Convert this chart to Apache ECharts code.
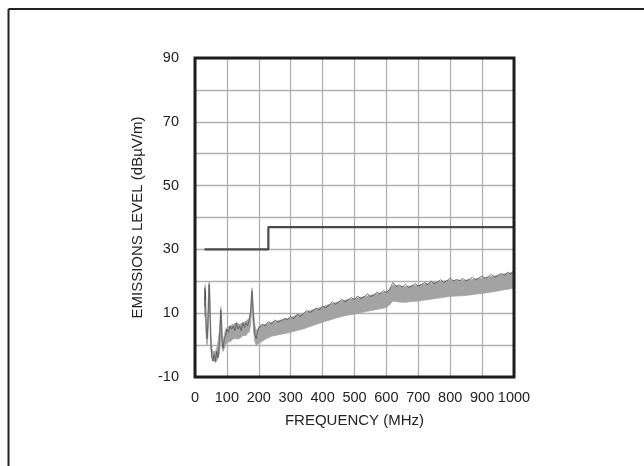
<!DOCTYPE html>
<html>
<head>
<meta charset="utf-8">
<script src="https://cdn.jsdelivr.net/npm/echarts@6/dist/echarts.min.js"></script>
<style>
html,body{margin:0;padding:0;background:#fff;}
#chart{width:644px;height:466px;}
</style>
</head>
<body>
<div id="chart"></div>
<script>
// ---- data ----
const yTickLabels = ['-10', '10', '30', '50', '70', '90'];
const xTickLabels = ['0','100','200','300','400','500','600','700','800','900','1000'];

// emission band envelope (MHz, dBuV/m)
const bandFreq = [30,31,32,33,34,36,38,40,42,44,46,48,50,53,56,60,64,68,72,76,79,81,83,85,88,92,96,100,110,120,130,140,150,160,166,170,174,177,179,181,184,188,192,196,
  200,220,240,260,280,300,320,340,360,380,400,420,440,460,480,500,520,540,560,580,600,610,620,640,660,680,700,720,740,760,780,800,820,840,860,880,900,920,940,960,980,1000];
const bandHigh = [13,17,19,16,11,6,5,9,15,20,19,11,4,-1,-2,-2,-2,-1,1,4,9,12,10,4,1,3,5,5.5,6,6.5,7,6.5,7,7.5,8,8.5,11,16,18,15,10,6,4.5,5,
  5.8,6.5,7.2,7.6,8.2,8.6,9.4,10,10.8,11.4,12,12.7,13.3,13.9,14.3,14.6,15,15.4,15.9,16.3,16.7,17.5,18.8,18.5,18.3,18.6,18.8,19.2,19.5,19.8,20.1,20.3,20.3,20.3,20.5,20.8,21,21.3,21.7,22.1,22.5,22.9];
const bandLow = [9,11,13,10,5,1,0,2,6,11,10,3,-2,-4,-5,-5,-5.5,-5,-4,-3,0,4,3,-1,-2,-1,0,1,1,2,2,2,3,3,4,4,6,10,12,9,4,1,0,0.2,
  0.5,1.8,2.8,3.2,3.6,4.0,4.6,5.1,5.8,6.5,7.2,7.8,8.4,9.0,9.4,9.7,10.2,10.6,11.0,11.4,11.8,12.6,13.8,13.5,13.4,13.7,13.8,14.1,14.4,14.7,15.0,15.3,15.4,15.5,15.7,16.0,16.2,16.5,16.8,17.2,17.5,17.9];

// dark measured trace (peaks)
const traceFreq = [30,31,32,33,34,36,38,40,42,44,46,48,50,53,56,60,64,68,72,76,79,81,83,85,88,92,96,100,105,110,115,120,125,130,135,140,145,150,155,160,165,170,174,177,179,181,184,188,192,196,
  200,210,220,230,240,250,260,270,280,290,300,310,320,330,340,350,360,370,380,390,400,410,420,430,440,450,460,470,480,490,500,510,520,530,540,550,560,570,580,590,600,
  610,620,630,640,650,660,670,680,690,700,710,720,730,740,750,760,770,780,790,800,810,820,830,840,850,860,870,880,890,900,910,920,930,940,950,960,970,980,990,1000];
const traceLevel = [12,18,14,17,9,4,2,6,12,19,16,7,0,-4,-5,-3,-5,-2,-4,0,6,11,8,1,-1,2,3,5,4,6,5,6,4.5,7,5,6,4.5,7,5.5,7,6,8,10,15,17,13,7,3,2,4,
  5.2,6.6,6.0,7.4,6.6,7.9,7.2,7.6,8.3,8.0,8.9,8.3,9.7,9.0,9.8,10.9,10.2,10.8,11.6,11.0,12.2,11.7,12.4,13.6,12.8,13.4,14.4,13.5,14.2,14.9,14.3,15.4,14.6,15.1,16.1,15.2,15.6,16.6,16.0,17.1,16.4,
  17.4,19.6,18.4,18.9,18.2,19.1,18.0,18.6,19.3,18.5,19.0,19.6,18.9,20.1,19.2,19.8,20.5,19.6,20.2,21.0,20.1,20.6,20.2,20.9,20.0,20.7,21.3,20.4,21.1,21.6,20.9,21.5,22.1,21.2,21.9,22.5,21.8,22.9,22.2,23.5];

// limit line
const limitFreq = [30, 230, 230, 1000];
const limitLevel = [30, 30, 37, 37];

const FONT = "'Liberation Sans', Arial, sans-serif";

const chart = echarts.init(document.getElementById('chart'), null, {renderer: 'canvas'});

const option = {
  animation: false,
  backgroundColor: '#ffffff',
  grid: {
    left: 195, top: 58, width: 319, height: 319,
    show: true, borderColor: '#1e1e1e', borderWidth: 3, backgroundColor: 'transparent',
    z: 10
  },
  xAxis: {
    type: 'value', min: 0, max: 1000, interval: 100,
    name: 'FREQUENCY (MHz)', nameLocation: 'middle', nameGap: 36,
    nameTextStyle: {fontFamily: FONT, fontSize: 15, color: '#222'},
    axisLine: {show: false}, axisTick: {show: false},
    axisLabel: {fontFamily: FONT, fontSize: 14.5, color: '#222', margin: 13,
      showMinLabel: true, showMaxLabel: true, hideOverlap: false,
      formatter: function (v) { const i = Math.round(v / 100); return xTickLabels[i] !== undefined ? xTickLabels[i] : ''; }},
    splitLine: {show: true, lineStyle: {color: '#b0b0b0', width: 1.3}}
  },
  yAxis: {
    type: 'value', min: -10, max: 90, interval: 10,
    name: 'EMISSIONS LEVEL (dBµV/m)', nameLocation: 'middle', nameGap: 50,
    nameTextStyle: {fontFamily: FONT, fontSize: 15, color: '#222'},
    axisLine: {show: false}, axisTick: {show: false},
    axisLabel: {fontFamily: FONT, fontSize: 14.5, color: '#222', margin: 16,
      showMinLabel: true, showMaxLabel: true,
      formatter: function (v) { const s = String(Math.round(v)); return yTickLabels.indexOf(s) >= 0 ? s : ''; }},
    splitLine: {show: true, lineStyle: {color: '#b0b0b0', width: 1.3}}
  },
  graphic: [
    {type: 'line', shape: {x1: 8.5, y1: 9, x2: 8.5, y2: 466}, style: {stroke: '#222', lineWidth: 2}},
    {type: 'line', shape: {x1: 8.5, y1: 9, x2: 644, y2: 9}, style: {stroke: '#222', lineWidth: 2}}
  ],
  series: [
    {
      type: 'custom',
      name: 'band',
      clip: true,
      z: 2,
      data: [[bandFreq[0], bandHigh[0]]],
      renderItem: function (params, api) {
        const pts = [];
        for (let i = 0; i < bandFreq.length; i++) pts.push(api.coord([bandFreq[i], bandHigh[i]]));
        for (let i = bandFreq.length - 1; i >= 0; i--) pts.push(api.coord([bandFreq[i], bandLow[i]]));
        return {type: 'polygon', shape: {points: pts}, style: {fill: '#a3a3a3', stroke: '#a3a3a3', lineWidth: 0.8}};
      }
    },
    {
      type: 'line', name: 'trace', z: 3, symbol: 'none', clip: true,
      data: traceFreq.map((f, i) => [f, traceLevel[i]]),
      lineStyle: {color: '#4a4a4a', width: 0.7}
    },
    {
      type: 'line', name: 'limit', z: 4, symbol: 'none',
      data: limitFreq.map((f, i) => [f, limitLevel[i]]),
      lineStyle: {color: '#4a4a4a', width: 2.2}
    }
  ]
};
chart.setOption(option);
</script>
</body>
</html>
